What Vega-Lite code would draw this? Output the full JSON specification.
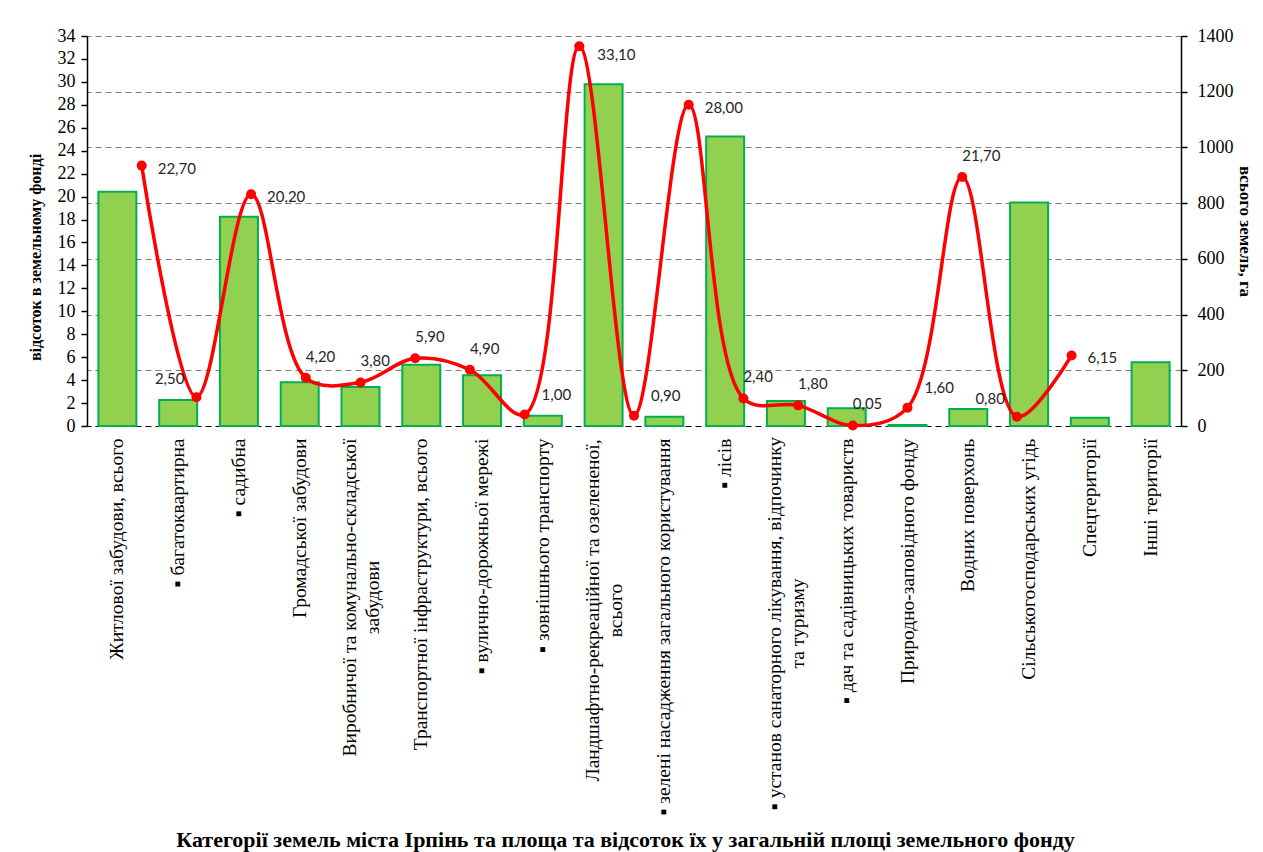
{
  "$schema": "https://vega.github.io/schema/vega-lite/v6.json",
  "width": 1094,
  "height": 390,
  "autosize": {"type": "none"},
  "padding": {"left": 87, "top": 36, "right": 82, "bottom": 426},
  "background": "white",
  "config": {
    "view": {"stroke": null},
    "locale": {"number": {"decimal": ",", "thousands": "", "grouping": [3], "currency": ["", ""]}}
  },
  "data": {
    "values": [
      {"cat": "Житлової забудови, всього", "area": 841, "pct": 22.7},
      {"cat": "▪ багатоквартирна", "area": 93, "pct": 2.5},
      {"cat": "▪ садибна", "area": 751, "pct": 20.2},
      {"cat": "Громадської забудови", "area": 157, "pct": 4.2},
      {"cat": "Виробничої та комунально-складської забудови", "area": 140, "pct": 3.8},
      {"cat": "Транспортної інфраструктури, всього", "area": 220, "pct": 5.9},
      {"cat": "▪ вулично-дорожньої мережі", "area": 182, "pct": 4.9},
      {"cat": "▪ зовнішнього транспорту", "area": 37, "pct": 1.0},
      {"cat": "Ландшафтно-рекреаційної та озелененої, всього", "area": 1227, "pct": 33.1},
      {"cat": "▪ зелені насадження загального користування", "area": 33, "pct": 0.9},
      {"cat": "▪ лісів", "area": 1039, "pct": 28.0},
      {"cat": "▪ установ санаторного лікування, відпочинку та туризму", "area": 90, "pct": 2.4},
      {"cat": "▪ дач та садівницьких товариств", "area": 64, "pct": 1.8},
      {"cat": "Природно-заповідного фонду", "area": 4, "pct": 0.05},
      {"cat": "Водних поверхонь", "area": 61, "pct": 1.6},
      {"cat": "Сільськогосподарських угідь", "area": 802, "pct": 21.7},
      {"cat": "Спецтериторії", "area": 30, "pct": 0.8},
      {"cat": "Інші території", "area": 229, "pct": 6.15}
    ]
  },
  "layer": [
    {
      "mark": {"type": "bar", "fill": "#92D050", "stroke": "#00B050", "strokeWidth": 2},
      "encoding": {
        "x": {
          "field": "cat", "type": "nominal", "sort": null,
          "scale": {"paddingInner": 0.375, "paddingOuter": 0.1875},
          "axis": {
            "orient": "bottom",
            "labelAngle": -90,
            "labelFont": "Liberation Serif",
            "labelFontSize": 19.5,
            "labelColor": "#000000",
            "labelLimit": 0,
            "labelLineHeight": 23,
            "labelAlign": {
              "condition": {"test": "datum.value == 'Виробничої та комунально-складської забудови' || datum.value == 'Ландшафтно-рекреаційної та озелененої, всього' || datum.value == '▪ установ санаторного лікування, відпочинку та туризму'", "value": "center"},
              "value": "right"
            },
            "labelPadding": {
              "condition": [
                {"test": "datum.value == 'Виробничої та комунально-складської забудови'", "value": 171},
                {"test": "datum.value == 'Ландшафтно-рекреаційної та озелененої, всього'", "value": 184},
                {"test": "datum.value == '▪ установ санаторного лікування, відпочинку та туризму'", "value": 197}
              ],
              "value": 12
            },
            "labelOffset": {
              "condition": {"test": "datum.value == 'Виробничої та комунально-складської забудови' || datum.value == 'Ландшафтно-рекреаційної та озелененої, всього' || datum.value == '▪ установ санаторного лікування, відпочинку та туризму'", "value": -11},
              "value": 0
            },
            "labelExpr": "datum.label == 'Виробничої та комунально-складської забудови' ? ['Виробничої та комунально-складської', 'забудови'] : datum.label == 'Ландшафтно-рекреаційної та озелененої, всього' ? ['Ландшафтно-рекреаційної та озелененої,', 'всього'] : datum.label == '▪ установ санаторного лікування, відпочинку та туризму' ? ['▪ установ санаторного лікування, відпочинку', 'та туризму'] : datum.label",
            "ticks": false,
            "domain": false,
            "grid": false,
            "title": "Категорії земель міста Ірпінь та площа та відсоток їх у загальній площі земельного фонду",
            "titleFont": "Liberation Serif",
            "titleFontWeight": "bold",
            "titleFontSize": 22,
            "titleColor": "#000000",
            "titleX": 538,
            "titleY": 420,
            "titleAlign": "center",
            "titleBaseline": "alphabetic"
          }
        },
        "y": {
          "field": "area", "type": "quantitative",
          "scale": {"domain": [0, 1400], "nice": false},
          "axis": {
            "orient": "right",
            "values": [0, 200, 400, 600, 800, 1000, 1200, 1400],
            "format": "d",
            "grid": true,
            "gridDash": [6, 4],
            "gridWidth": 1.2,
            "gridColor": {"condition": {"test": "datum.value === 0", "value": "#000000"}, "value": "#7f7f7f"},
            "domainColor": "#000000",
            "domainWidth": 1.5,
            "tickColor": "#000000",
            "tickSize": 6,
            "tickWidth": 1.5,
            "labelFont": "Liberation Serif",
            "labelFontSize": 18,
            "labelColor": "#000000",
            "labelPadding": 10,
            "title": "всього земель, га",
            "titleFont": "Liberation Serif",
            "titleFontWeight": "bold",
            "titleFontSize": 17,
            "titleColor": "#000000",
            "titleAngle": 90,
            "titleX": 63,
            "titleY": 195,
            "titleAlign": "center",
            "titleBaseline": "middle"
          }
        }
      }
    },
    {
      "encoding": {
        "x": {
          "field": "cat", "type": "nominal", "sort": null,
          "scale": {
            "type": "point", "padding": 0,
            "domain": ["_p0", "Житлової забудови, всього", "▪ багатоквартирна", "▪ садибна", "Громадської забудови", "Виробничої та комунально-складської забудови", "Транспортної інфраструктури, всього", "▪ вулично-дорожньої мережі", "▪ зовнішнього транспорту", "Ландшафтно-рекреаційної та озелененої, всього", "▪ зелені насадження загального користування", "▪ лісів", "▪ установ санаторного лікування, відпочинку та туризму", "▪ дач та садівницьких товариств", "Природно-заповідного фонду", "Водних поверхонь", "Сільськогосподарських угідь", "Спецтериторії", "Інші території", "_p19", "_p20"]
          },
          "axis": null
        },
        "y": {
          "field": "pct", "type": "quantitative",
          "scale": {"domain": [0, 34], "nice": false},
          "axis": {
            "orient": "left",
            "values": [0, 2, 4, 6, 8, 10, 12, 14, 16, 18, 20, 22, 24, 26, 28, 30, 32, 34],
            "format": "d",
            "grid": false,
            "domainColor": "#000000",
            "domainWidth": 1.5,
            "tickColor": "#000000",
            "tickSize": 6,
            "tickWidth": 1.5,
            "labelFont": "Liberation Serif",
            "labelFontSize": 18,
            "labelColor": "#000000",
            "labelPadding": 6,
            "title": "відсоток в земельному фонді",
            "titleFont": "Liberation Serif",
            "titleFontWeight": "bold",
            "titleFontSize": 16,
            "titleColor": "#000000",
            "titleAngle": -90,
            "titleX": -52,
            "titleY": 221,
            "titleAlign": "center",
            "titleBaseline": "middle"
          }
        }
      },
      "layer": [
        {"mark": {"type": "line", "color": "#FF0000", "strokeWidth": 3.5, "interpolate": "catmull-rom"}},
        {"mark": {"type": "point", "filled": true, "size": 100, "color": "#FF0000", "opacity": 1}},
        {
          "transform": [{"filter": {"field": "pct", "oneOf": [22.7, 20.2, 28.0, 6.15]}}],
          "mark": {"type": "text", "align": "left", "baseline": "middle", "dx": 16, "dy": 3, "font": "Lato", "fontSize": 15, "color": "#262626"},
          "encoding": {"text": {"field": "pct", "type": "quantitative", "format": ".2f"}}
        },
        {
          "transform": [{"filter": {"field": "pct", "oneOf": [33.1]}}],
          "mark": {"type": "text", "align": "left", "baseline": "middle", "dx": 18, "dy": 9, "font": "Lato", "fontSize": 15, "color": "#262626"},
          "encoding": {"text": {"field": "pct", "type": "quantitative", "format": ".2f"}}
        },
        {
          "transform": [{"filter": {"field": "pct", "oneOf": [2.5, 0.8]}}],
          "mark": {"type": "text", "align": "right", "baseline": "middle", "dx": -12, "dy": -18, "font": "Lato", "fontSize": 15, "color": "#262626"},
          "encoding": {"text": {"field": "pct", "type": "quantitative", "format": ".2f"}}
        },
        {
          "transform": [{"filter": {"field": "pct", "oneOf": [4.2, 3.8, 5.9, 4.9, 2.4, 1.8, 0.05, 21.7]}}],
          "mark": {"type": "text", "align": "left", "baseline": "middle", "dx": 0, "dy": -21, "font": "Lato", "fontSize": 15, "color": "#262626"},
          "encoding": {"text": {"field": "pct", "type": "quantitative", "format": ".2f"}}
        },
        {
          "transform": [{"filter": {"field": "pct", "oneOf": [1.0, 0.9, 1.6]}}],
          "mark": {"type": "text", "align": "left", "baseline": "middle", "dx": 17, "dy": -20, "font": "Lato", "fontSize": 15, "color": "#262626"},
          "encoding": {"text": {"field": "pct", "type": "quantitative", "format": ".2f"}}
        }
      ]
    }
  ],
  "resolve": {
    "scale": {"x": "independent", "y": "independent"},
    "axis": {"x": "independent", "y": "independent"}
  }
}
